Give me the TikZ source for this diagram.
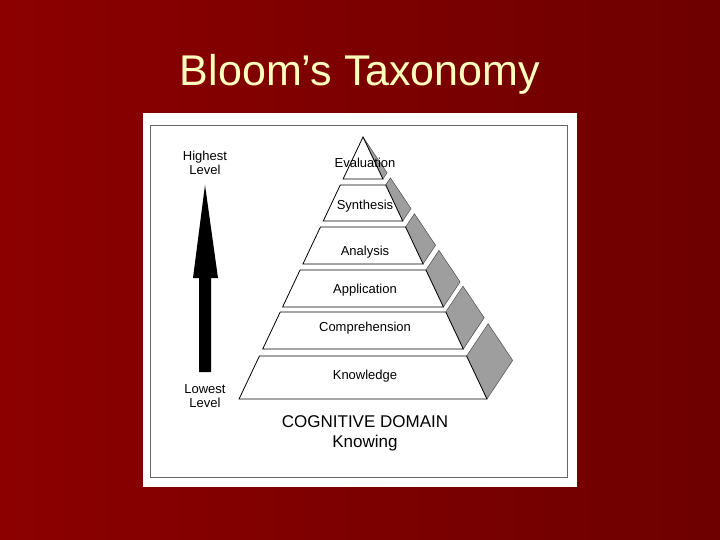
\documentclass[tikz,border=0pt]{standalone}
\usepackage{fontspec}
\setmainfont{Liberation Sans}
\begin{document}
\begin{tikzpicture}[x=1pt,y=-1pt,
  tier/.style={draw=black,line width=0.8pt,fill=white},
  side/.style={draw=black!70,line width=0.5pt,fill=black!38},
  lab/.style={font=\fontsize{13}{14}\selectfont,inner sep=0pt},
  side label/.style={font=\fontsize{13}{14}\selectfont,align=center,inner sep=0pt}]
\useasboundingbox (0,0) rectangle (720,540);
\shade[left color={rgb,255:red,140;green,0;blue,0},right color={rgb,255:red,110;green,0;blue,0}] (0,0) rectangle (720,540);
\node[font=\fontsize{43}{46}\selectfont,text={rgb,255:red,255;green,255;blue,190}] (title) at (360,74) {Bloom’s Taxonomy};
\fill[white] (143,113) rectangle (577,487);
\draw[black!60,line width=0.5pt] (150,125) rectangle (567,477);
\foreach \yt/\yb in {185/221,227/264,270/307,312/349,356/399}{
  \pgfmathsetmacro\dt{\yt-137}\pgfmathsetmacro\db{\yb-137}
  \pgfmathsetmacro\tt{0.0983*\dt}\pgfmathsetmacro\tb{0.0983*\db}
  \draw[side] ({363+0.473*\dt},\yt) -- ({363+0.473*\db},\yb) -- ({363+0.473*\db+\tb},{\yb-1.5*\tb}) -- ({363+0.473*\dt+\tt},{\yt-1.5*\tt}) -- cycle;
  \draw[tier] ({363-0.473*\dt},\yt) -- ({363+0.473*\dt},\yt) -- ({363+0.473*\db},\yb) -- ({363-0.473*\db},\yb) -- cycle;
}
\pgfmathsetmacro\tb{0.0983*42}
\draw[side] (363,137) -- (382.9,179) -- ({382.9+\tb},{179-1.5*\tb}) -- cycle;
\draw[tier] (363,137) -- (382.9,179) -- (343.1,179) -- cycle;
\node[lab] (eval) at (365,163) {Evaluation};
\node[lab] (syn) at (365,206) {Synthesis};
\node[lab] (ana) at (365,252) {Analysis};
\node[lab] (app) at (365,290) {Application};
\node[lab] (comp) at (365,328) {Comprehension};
\node[lab] (know) at (365,376) {Knowledge};
\node[font=\fontsize{17}{20}\selectfont,align=center,inner sep=0pt] (dom) at (365,433) {COGNITIVE DOMAIN\\Knowing};
\node[side label] (hi) at (205,163) {Highest\\Level};
\node[side label] (lo) at (205,396) {Lowest\\Level};
\fill[black] (199,372) -- (199,278) -- (193,278) -- (205,185) -- (218,278) -- (211,278) -- (211,372) -- cycle;
\end{tikzpicture}
\end{document}
